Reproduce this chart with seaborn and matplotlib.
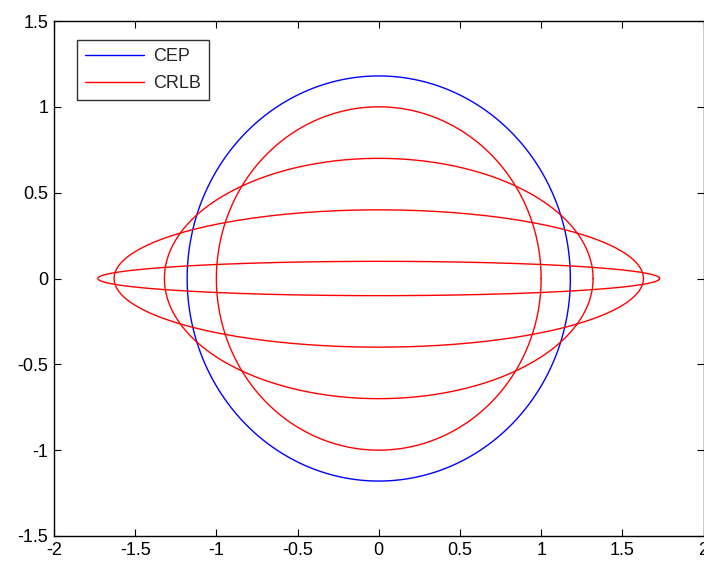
import numpy as np
import pandas as pd
import matplotlib
matplotlib.use("Agg")
import matplotlib.pyplot as plt
import seaborn as sns

# Values
cep_radius = 1.18
crlb_half_width = [1.0, 1.32, 1.63, 1.73]
crlb_half_height = [1.0, 0.7, 0.4, 0.1]

x_ticks = [-2, -1.5, -1, -0.5, 0, 0.5, 1, 1.5, 2]
x_tick_labels = ["-2", "-1.5", "-1", "-0.5", "0", "0.5", "1", "1.5", "2"]
y_ticks = [-1.5, -1, -0.5, 0, 0.5, 1, 1.5]
y_tick_labels = ["-1.5", "-1", "-0.5", "0", "0.5", "1", "1.5"]

# Closed curves from the semi-axes
t = np.linspace(0, 2 * np.pi, 400)
rows = []
rows.append(pd.DataFrame({"x": cep_radius * np.cos(t), "y": cep_radius * np.sin(t),
                          "series": "CEP", "curve": 0}))
for i, (a, b) in enumerate(zip(crlb_half_width, crlb_half_height)):
    rows.append(pd.DataFrame({"x": a * np.cos(t), "y": b * np.sin(t),
                              "series": "CRLB", "curve": i + 1}))
df = pd.concat(rows, ignore_index=True)

sns.set_style("ticks")
plt.rcParams["font.family"] = ["Liberation Sans", "DejaVu Sans"]

fig = plt.figure(figsize=(7.04, 5.63), dpi=100)
ax = fig.add_axes([54 / 704, 27 / 563, 649.5 / 704, 515 / 563])

sns.lineplot(data=df, x="x", y="y", hue="series", units="curve", estimator=None,
             sort=False, palette={"CEP": "#0000ff", "CRLB": "#ff0000"},
             linewidth=1, ax=ax)

ax.set_xlim(-2, 2)
ax.set_ylim(-1.5, 1.5)
ax.set_xticks(x_ticks)
ax.set_xticklabels(x_tick_labels)
ax.set_yticks(y_ticks)
ax.set_yticklabels(y_tick_labels)
ax.set_xlabel("")
ax.set_ylabel("")
ax.tick_params(direction="in", length=5, width=0.8, top=True, right=True,
               labelsize=13, colors="black", pad=4)
for s in ax.spines.values():
    s.set_visible(True)
    s.set_color("black")
    s.set_linewidth(1)

handles, labels = ax.get_legend_handles_labels()
leg = ax.legend(handles, labels, loc="upper left", bbox_to_anchor=(0.035, 0.963),
                borderaxespad=0, frameon=True, fancybox=False, edgecolor="black",
                fontsize=13, handlelength=3.3, handletextpad=0.5, borderpad=0.45,
                labelspacing=0.55)
leg.get_frame().set_linewidth(1)

fig.savefig("out.png", dpi=100)
